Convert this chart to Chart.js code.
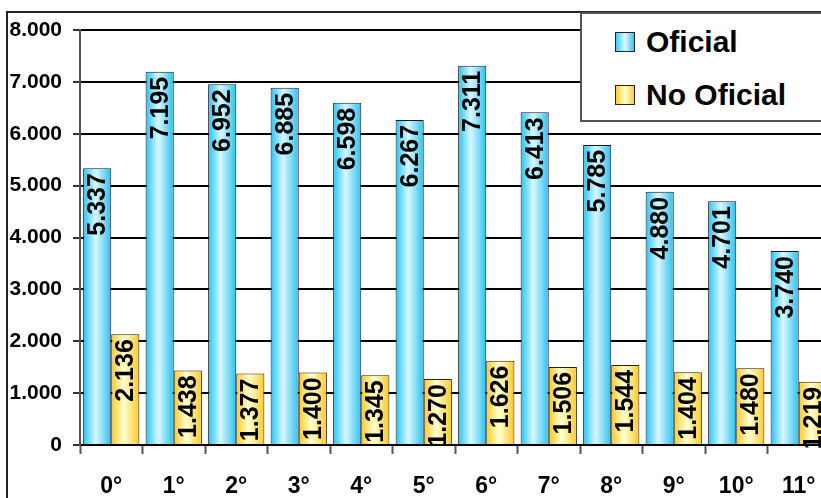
<!DOCTYPE html>
<html>
<head>
<meta charset="utf-8">
<script src="https://cdn.jsdelivr.net/npm/chart.js@4"></script>
<style>
  html, body { margin: 0; padding: 0; background: #fff; overflow: hidden; }
  body { width: 821px; height: 498px; position: relative; }
  #frame { position: absolute; left: 6px; top: 11px; width: 900px; height: 600px; border: 2px solid #222; }
  #wrap { position: absolute; left: 0; top: 0; width: 850px; height: 498px; }
  #legend {
    position: absolute; left: 580px; top: 12px; width: 300px; height: 106px;
    background: #fff; border: 2px solid #555;
    font: bold 30px "Liberation Sans", Arial, sans-serif; color: #000;
  }
  .item { position: absolute; left: 33px; display: flex; align-items: center; }
  .box { width: 18px; height: 18px; border: 1px solid #222; margin-right: 11px; }
</style>
</head>
<body>
<div id="frame"></div>
<div id="wrap"><canvas id="chart" width="850" height="498"></canvas></div>
<div id="legend">
  <div class="item" style="top:11px"><span class="box" style="background:linear-gradient(90deg,#33ccff,#e0faff,#33c4f5)"></span>Oficial</div>
  <div class="item" style="top:64px"><span class="box" style="background:linear-gradient(90deg,#ffcc33,#ffffcc,#ffcc33)"></span>No Oficial</div>
</div>
<script>
// Chart data
const categories = ['0°', '1°', '2°', '3°', '4°', '5°', '6°', '7°', '8°', '9°', '10°', '11°'];
const oficial = [5337, 7195, 6952, 6885, 6598, 6267, 7311, 6413, 5785, 4880, 4701, 3740];
const noOficial = [2136, 1438, 1377, 1400, 1345, 1270, 1626, 1506, 1544, 1404, 1480, 1219];
const yTicks = [0, 1000, 2000, 3000, 4000, 5000, 6000, 7000, 8000];

const CAT_PCT = 0.9;
const FONT = '"Liberation Sans", Arial, sans-serif';

function fmt(v) {
    return v.toString().replace(/\B(?=(\d{3})+(?!\d))/g, '.');
}

// horizontal gradient across each bar
function barGradient(stops) {
    return function(ctx) {
        const chart = ctx.chart;
        const xs = chart.scales.x;
        if (!xs || !chart.chartArea) return stops[0];
        const center = xs.getPixelForValue(ctx.dataIndex);
        const barW = (xs.width / categories.length) * CAT_PCT / 2;
        const left = ctx.datasetIndex === 0 ? center - barW : center;
        const g = chart.ctx.createLinearGradient(left, 0, left + barW, 0);
        g.addColorStop(0, stops[0]);
        g.addColorStop(0.45, stops[1]);
        g.addColorStop(1, stops[2]);
        return g;
    };
}

// Rotated value labels inside bar tops
const valueLabels = {
    id: 'valueLabels',
    afterDatasetsDraw(chart) {
        const ctx = chart.ctx;
        ctx.save();
        ctx.font = 'bold 25px ' + FONT;
        ctx.fillStyle = '#000';
        ctx.textAlign = 'right';
        ctx.textBaseline = 'middle';
        chart.data.datasets.forEach((ds, di) => {
            chart.getDatasetMeta(di).data.forEach((bar, i) => {
                ctx.save();
                ctx.translate(bar.x + 1, bar.y + 5);
                ctx.rotate(-Math.PI / 2);
                ctx.fillText(fmt(ds.data[i]), 0, 0);
                ctx.restore();
            });
        });
        ctx.restore();
    }
};

new Chart(document.getElementById('chart'), {
    type: 'bar',
    data: {
        labels: categories,
        datasets: [{
            label: 'Oficial',
            data: oficial,
            backgroundColor: barGradient(['#22c4f5', '#d8f8ff', '#2cc0ee']),
            borderColor: '#1a1a1a',
            borderWidth: 1,
            borderSkipped: 'bottom',
            categoryPercentage: CAT_PCT,
            barPercentage: 1
        }, {
            label: 'No Oficial',
            data: noOficial,
            backgroundColor: barGradient(['#ffc82a', '#ffffd0', '#ffc82a']),
            borderColor: '#2a2200',
            borderWidth: 1,
            borderSkipped: 'bottom',
            categoryPercentage: CAT_PCT,
            barPercentage: 1
        }]
    },
    options: {
        responsive: false,
        animation: false,
        layout: { padding: { left: 0, right: 20, top: 30, bottom: 0 } },
        plugins: {
            legend: { display: false },
            tooltip: { enabled: false }
        },
        scales: {
            x: {
                offset: true,
                grid: {
                    display: true,
                    offset: true,
                    drawOnChartArea: false,
                    drawTicks: true,
                    tickLength: 9,
                    tickColor: '#555',
                    tickWidth: 2
                },
                border: { color: '#000', width: 2 },
                ticks: {
                    color: '#000',
                    padding: 19,
                    font: { family: FONT, size: 23, weight: 'bold' }
                },
                afterFit: s => { s.height = 53; }
            },
            y: {
                min: 0,
                max: 8000,
                afterBuildTicks: s => { s.ticks = yTicks.map(v => ({ value: v })); },
                grid: {
                    color: '#000',
                    lineWidth: 2,
                    borderDash: [3, 4],
                    drawTicks: true,
                    tickLength: 7,
                    tickColor: '#333',
                    tickWidth: 2,
                    tickBorderDash: []
                },
                border: { color: '#555', width: 2 },
                ticks: {
                    color: '#000',
                    padding: 11,
                    font: { family: FONT, size: 21, weight: 'bold' },
                    callback: v => fmt(v)
                },
                afterFit: s => { s.width = 80; }
            }
        }
    },
    plugins: [valueLabels]
});
</script>
</body>
</html>
